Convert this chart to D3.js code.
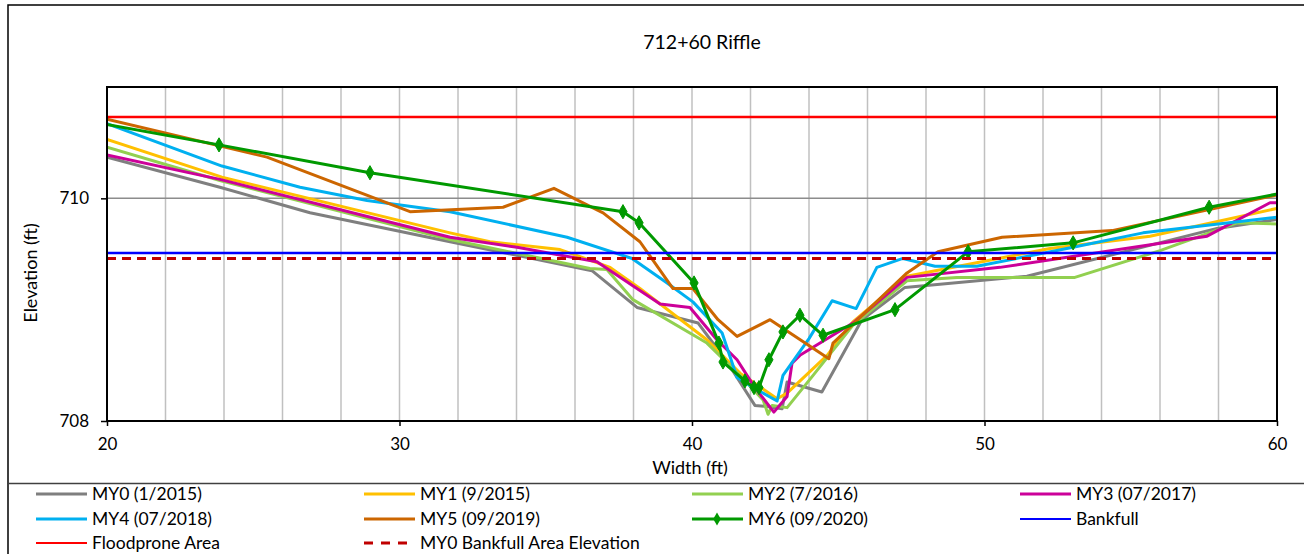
<!DOCTYPE html>
<html>
<head>
<meta charset="utf-8">
<script src="https://cdn.jsdelivr.net/npm/d3@7"></script>
<style>
  html, body { margin: 0; padding: 0; background: #fff; }
  svg { display: block; font-family: Lato, "Open Sans", sans-serif; }
</style>
</head>
<body>
<svg id="chart" width="1304" height="554"></svg>
<script>
// Cross-section survey, station 712+60 riffle: width (ft) vs elevation (ft)
const title = "712+60 Riffle";
const xTicks = [20, 30, 40, 50, 60];
const yTicks = [708, 710];
const xGrid = [22, 24, 26, 28, 30, 32, 34, 36, 38, 40, 42, 44, 46, 48, 50, 52, 54, 56, 58];

const my0X = [20, 23.86, 26.94, 31.73, 36.58, 38.12, 40.21, 41.20, 42.15, 42.56, 43.08, 43.25, 44.44, 45.81, 47.28, 51.45, 57.95, 60];
const my0Y = [710.37, 710.10, 709.87, 709.61, 709.35, 709.02, 708.88, 708.53, 708.14, 708.13, 708.11, 708.35, 708.26, 708.91, 709.20, 709.30, 709.73, 709.81];

const my1X = [20, 23.93, 31.73, 33.09, 35.49, 37.20, 38.22, 40.51, 41.64, 42.91, 43.25, 44.62, 45.50, 47.35, 52.24, 55.66, 60];
const my1Y = [710.53, 710.19, 709.69, 709.61, 709.54, 709.38, 709.19, 708.73, 708.43, 708.20, 708.25, 708.59, 708.89, 709.30, 709.55, 709.66, 709.91];

const my2X = [20, 23.86, 31.73, 36.51, 37.09, 37.98, 40.51, 41.64, 42.43, 42.60, 42.74, 43.25, 44.14, 45.50, 47.35, 49.06, 53.09, 56.00, 58.63, 60];
const my2Y = [710.46, 710.16, 709.63, 709.37, 709.36, 709.09, 708.70, 708.41, 708.19, 708.06, 708.14, 708.12, 708.41, 708.86, 709.26, 709.29, 709.29, 709.53, 709.78, 709.77];

const my3X = [20, 23.86, 31.73, 34.02, 36.75, 38.91, 39.93, 40.85, 41.54, 42.15, 42.80, 43.25, 43.42, 43.69, 45.50, 47.35, 50.53, 57.61, 59.76, 60];
const my3Y = [710.39, 710.17, 709.65, 709.56, 709.43, 709.05, 709.02, 708.73, 708.55, 708.30, 708.08, 708.22, 708.52, 708.59, 708.88, 709.29, 709.38, 709.66, 709.96, 709.96];

const my4X = [20, 23.93, 26.60, 28.89, 31.73, 35.73, 37.95, 39.15, 40.03, 41.03, 41.54, 42.09, 42.91, 43.11, 44.00, 44.79, 45.61, 46.32, 47.21, 48.31, 49.74, 53.03, 55.42, 60];
const my4Y = [710.67, 710.29, 710.10, 709.98, 709.88, 709.65, 709.46, 709.24, 709.07, 708.79, 708.39, 708.30, 708.18, 708.41, 708.74, 709.08, 709.01, 709.38, 709.46, 709.39, 709.39, 709.56, 709.69, 709.83];

const my5X = [20, 25.47, 30.36, 33.54, 35.28, 36.96, 38.22, 39.35, 40.03, 40.89, 41.54, 42.67, 44.68, 44.82, 47.35, 48.41, 50.60, 54.36, 60];
const my5Y = [710.71, 710.37, 709.88, 709.92, 710.09, 709.87, 709.61, 709.19, 709.19, 708.91, 708.76, 708.91, 708.56, 708.70, 709.33, 709.52, 709.65, 709.71, 710.03];

const my6X = [19, 23.83, 28.99, 37.64, 38.19, 40.07, 40.92, 41.06, 41.81, 42.12, 42.29, 42.63, 43.11, 43.69, 44.48, 46.94, 49.44, 53.03, 57.68, 61];
const my6Y = [710.71, 710.48, 710.23, 709.88, 709.78, 709.24, 708.70, 708.53, 708.36, 708.30, 708.30, 708.55, 708.80, 708.95, 708.77, 709.00, 709.52, 709.60, 709.92, 710.09];

const refX = [20, 60];
const bankfullY = [709.51, 709.51];
const floodproneY = [710.73, 710.73];
const my0BankfullY = [709.46, 709.46];

const series = [
  { name: "MY0 (1/2015)", xs: my0X, ys: my0Y, color: "#7F7F7F", width: 3 },
  { name: "MY1 (9/2015)", xs: my1X, ys: my1Y, color: "#FFC000", width: 3 },
  { name: "MY2 (7/2016)", xs: my2X, ys: my2Y, color: "#92D050", width: 3 },
  { name: "MY3 (07/2017)", xs: my3X, ys: my3Y, color: "#CC0099", width: 3 },
  { name: "MY4 (07/2018)", xs: my4X, ys: my4Y, color: "#00B0F0", width: 3 },
  { name: "MY5 (09/2019)", xs: my5X, ys: my5Y, color: "#CC6600", width: 3 },
  { name: "MY6 (09/2020)", xs: my6X, ys: my6Y, color: "#009900", width: 3, marker: true },
  { name: "Bankfull", xs: refX, ys: bankfullY, color: "#0000FF", width: 2.5 },
  { name: "Floodprone Area", xs: refX, ys: floodproneY, color: "#FF0000", width: 2.5 },
  { name: "MY0 Bankfull Area Elevation", xs: refX, ys: my0BankfullY, color: "#C00000", width: 3, dash: "9,6" }
];

const svg = d3.select("#chart");
const plot = { left: 107, top: 87, right: 1277, bottom: 421 };

const x = d3.scaleLinear().domain([20, 60]).range([plot.left, plot.right]);
const y = d3.scaleLinear().domain([708, 711]).range([plot.bottom, plot.top]);

// outer chart frame and legend divider
svg.append("rect").attr("x", 8).attr("y", 5).attr("width", 1310).attr("height", 560)
  .attr("fill", "none").attr("stroke", "#000").attr("stroke-width", 1.5);
svg.append("line").attr("x1", 8).attr("x2", 1304).attr("y1", 483.5).attr("y2", 483.5)
  .attr("stroke", "#404040").attr("stroke-width", 1.5);

svg.append("text").attr("x", 702).attr("y", 49).attr("text-anchor", "middle")
  .attr("font-size", 19.5).attr("fill", "#000").text(title);

svg.append("defs").append("clipPath").attr("id", "plotClip")
  .append("rect").attr("x", plot.left).attr("y", plot.top)
  .attr("width", plot.right - plot.left).attr("height", plot.bottom - plot.top);

// vertical gridlines every 2 ft
svg.append("g").selectAll("line").data(xGrid).join("line")
  .attr("x1", d => x(d)).attr("x2", d => x(d))
  .attr("y1", plot.top).attr("y2", plot.bottom)
  .attr("stroke", "#C0C0C0").attr("stroke-width", 1.5);

// horizontal major gridline
svg.append("g").selectAll("line").data(yTicks.filter(d => d > 708)).join("line")
  .attr("x1", plot.left).attr("x2", plot.right)
  .attr("y1", d => y(d)).attr("y2", d => y(d))
  .attr("stroke", "#8C8C8C").attr("stroke-width", 1.5);

// axes
const xAxis = d3.axisBottom(x).tickValues(xTicks).tickSize(5).tickPadding(12).tickFormat(d3.format("d"));
const yAxis = d3.axisLeft(y).tickValues(yTicks).tickSize(6).tickPadding(12).tickFormat(d3.format("d"));

const gx = svg.append("g").attr("transform", `translate(0,${plot.bottom})`).call(xAxis);
const gy = svg.append("g").attr("transform", `translate(${plot.left},0)`).call(yAxis);
[gx, gy].forEach(g => {
  g.select(".domain").remove();
  g.selectAll(".tick line").attr("stroke", "#000").attr("stroke-width", 1.5);
  g.selectAll(".tick text").attr("font-size", 17).attr("fill", "#000")
    .attr("font-family", "Lato, 'Open Sans', sans-serif");
});

svg.append("text").attr("x", 690).attr("y", 474).attr("text-anchor", "middle")
  .attr("font-size", 18).attr("fill", "#000").text("Width (ft)");
svg.append("text").attr("transform", "translate(37,273) rotate(-90)")
  .attr("text-anchor", "middle").attr("font-size", 18).attr("fill", "#000").text("Elevation (ft)");

// series lines
const lineGen = d3.line().x(d => x(d[0])).y(d => y(d[1]));
const gLines = svg.append("g").attr("clip-path", "url(#plotClip)");
series.forEach(s => {
  const pts = s.xs.map((v, i) => [v, s.ys[i]]);
  gLines.append("path").datum(pts)
    .attr("d", lineGen).attr("fill", "none")
    .attr("stroke", s.color).attr("stroke-width", s.width)
    .attr("stroke-linejoin", "round")
    .attr("stroke-dasharray", s.dash || null);
  if (s.marker) {
    gLines.append("g").selectAll("path").data(pts).join("path")
      .attr("transform", d => `translate(${x(d[0])},${y(d[1])})`)
      .attr("d", d3.symbol(d3.symbolDiamond, 58))
      .attr("fill", s.color).attr("stroke", s.color).attr("stroke-width", 1);
  }
});

// plot frame
svg.append("rect").attr("x", plot.left).attr("y", plot.top)
  .attr("width", plot.right - plot.left).attr("height", plot.bottom - plot.top)
  .attr("fill", "none").attr("stroke", "#000").attr("stroke-width", 2);

// legend: four columns, three rows
const legCols = [36, 364, 692, 1020];
const legRows = [494, 519, 543];
const gLeg = svg.append("g");
series.forEach((s, i) => {
  const cx = legCols[i % 4], cy = legRows[Math.floor(i / 4)];
  const item = gLeg.append("g").attr("transform", `translate(${cx},${cy})`);
  item.append("line").attr("x1", 0).attr("x2", 51).attr("y1", 0).attr("y2", 0)
    .attr("stroke", s.color).attr("stroke-width", s.width === 3 ? 3 : 2)
    .attr("stroke-dasharray", s.dash ? "9,8" : null);
  if (s.marker) {
    item.append("path").attr("transform", "translate(25,0)")
      .attr("d", d3.symbol(d3.symbolDiamond, 50)).attr("fill", s.color);
  }
  item.append("text").attr("x", 56).attr("y", 6).attr("font-size", 17.5)
    .attr("fill", "#000").text(s.name);
});
</script>
</body>
</html>
